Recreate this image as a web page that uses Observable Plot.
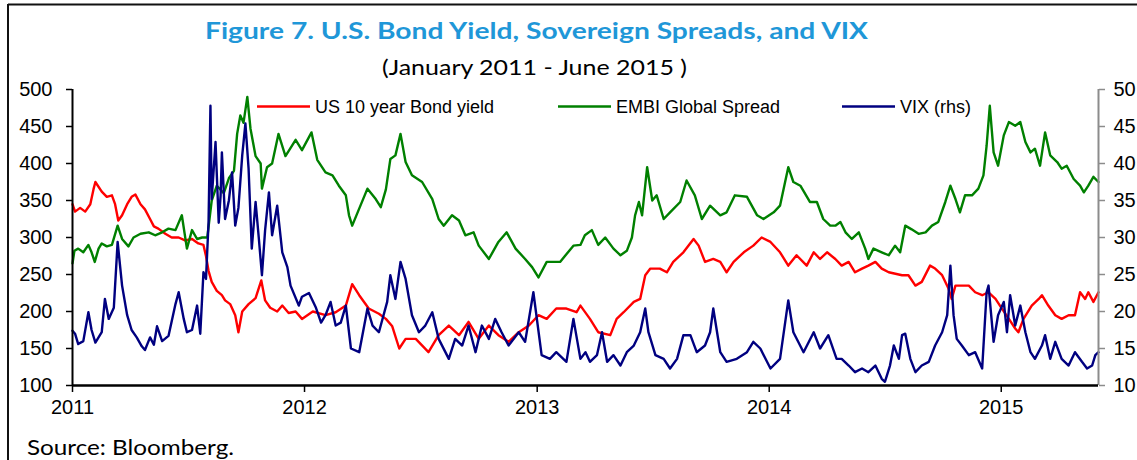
<!DOCTYPE html>
<html>
<head>
<meta charset="utf-8">
<script src="https://cdn.jsdelivr.net/npm/d3@7"></script>
<script src="https://cdn.jsdelivr.net/npm/@observablehq/plot@0.6"></script>
<style>
  html, body { margin: 0; padding: 0; background: #fff; }
  #wrap { position: relative; width: 1137px; height: 460px; overflow: hidden; background: #fff; }
  #chart { position: absolute; left: 0; top: 0; }
  #overlay { position: absolute; left: 0; top: 0; pointer-events: none; }
</style>
</head>
<body>
<div id="wrap">
  <div id="chart"></div>
  <svg id="overlay" width="1137" height="460"></svg>
</div>
<script>
// ---------- data (dates as "%Y-%j": year-dayOfYear) ----------
const seriesNames = ["US 10 year Bond yield", "EMBI Global Spread", "VIX (rhs)"];
const seriesColors = ["#ff0000", "#008000", "#000080"];

const usDates = [
"2011-001","2011-005","2011-013","2011-021","2011-029","2011-034","2011-037","2011-047","2011-055","2011-063",
"2011-068","2011-073","2011-079","2011-087","2011-094","2011-100","2011-108","2011-115","2011-123","2011-129",
"2011-136","2011-147","2011-157","2011-168","2011-178","2011-189","2011-199","2011-207","2011-211","2011-215",
"2011-220","2011-228","2011-236","2011-241","2011-249","2011-257","2011-262","2011-268","2011-278","2011-289",
"2011-298","2011-304","2011-312","2011-323","2011-331","2011-341","2011-352","2011-362",
"2012-014","2012-034","2012-050","2012-066","2012-076","2012-087","2012-102","2012-118","2012-129","2012-139",
"2012-150","2012-160","2012-176","2012-196","2012-212","2012-228","2012-244","2012-259","2012-275","2012-291",
"2012-306","2012-322","2012-338","2012-354",
"2013-003","2013-016","2013-031","2013-047","2013-063","2013-069","2013-084","2013-097","2013-116","2013-126",
"2013-137","2013-153","2013-163","2013-171","2013-179","2013-194","2013-205","2013-215","2013-231","2013-247",
"2013-255","2013-265","2013-278","2013-289","2013-299","2013-310","2013-326","2013-341","2013-354",
"2014-003","2014-018","2014-031","2014-044","2014-060","2014-071","2014-081","2014-092","2014-105","2014-115",
"2014-126","2014-136","2014-147","2014-157","2014-168","2014-178","2014-189","2014-210","2014-220","2014-231",
"2014-241","2014-254","2014-262","2014-273","2014-283","2014-288","2014-294","2014-304","2014-315","2014-325",
"2014-336","2014-346","2014-357",
"2015-002","2015-013","2015-023","2015-028","2015-036","2015-049","2015-060","2015-065","2015-075","2015-086",
"2015-096","2015-107","2015-117","2015-125","2015-133","2015-138","2015-146","2015-154"];
const usYield = [
345,335,340,335,345,365,375,362,355,357, 345,323,330,345,355,358,345,338,325,315,
312,305,300,300,296,298,292,290,275,255, 240,228,222,215,210,195,172,200,210,218,
242,215,205,200,208,198,200,190,
200,195,199,208,237,222,204,197,190,180, 150,163,163,145,168,181,168,186,163,181,
168,159,172,181,
195,190,204,204,199,208,190,172,168,190, 199,213,217,249,258,258,253,267,280,298,
289,267,271,267,253,267,280,289,300,
294,280,262,276,262,280,271,280,271,262, 267,253,258,262,267,258,253,249,249,235,
240,262,258,249,231,217,235,235,235,226, 222,226,217,
204,190,177,172,190,208,217,222,208,195, 190,195,195,226,217,226,213,226];

const embiDates = [
"2011-001","2011-004","2011-010","2011-018","2011-026","2011-031","2011-036","2011-042","2011-047","2011-055",
"2011-063","2011-072","2011-079","2011-089","2011-097","2011-108","2011-121","2011-131","2011-142","2011-152",
"2011-163","2011-173","2011-181","2011-189","2011-197","2011-205","2011-213","2011-220","2011-228","2011-239",
"2011-247","2011-255","2011-260","2011-265","2011-270","2011-276","2011-281","2011-289","2011-297","2011-299",
"2011-307","2011-315","2011-325","2011-336","2011-352","2011-362",
"2012-012","2012-021","2012-034","2012-045","2012-055","2012-066","2012-071","2012-076","2012-087","2012-100",
"2012-113","2012-121","2012-129","2012-136","2012-144","2012-152","2012-160","2012-170","2012-186","2012-202",
"2012-212","2012-220","2012-233","2012-244","2012-254","2012-267","2012-275","2012-291","2012-306","2012-319",
"2012-333","2012-348","2012-359",
"2013-003","2013-016","2013-037","2013-058","2013-069","2013-076","2013-087","2013-097","2013-108","2013-121",
"2013-132","2013-142","2013-150","2013-155","2013-161","2013-166","2013-174","2013-182","2013-189","2013-200",
"2013-210","2013-226","2013-236","2013-249","2013-260","2013-273","2013-289","2013-299","2013-312","2013-331",
"2013-347","2013-357",
"2014-008","2014-018","2014-026","2014-031","2014-039","2014-050","2014-065","2014-076","2014-086","2014-097",
"2014-105","2014-113","2014-121","2014-131","2014-142","2014-152","2014-157","2014-165","2014-178","2014-189",
"2014-199","2014-207","2014-215","2014-225","2014-236","2014-247","2014-257","2014-267","2014-278","2014-286",
"2014-294","2014-301","2014-309","2014-320","2014-330","2014-338","2014-343","2014-348","2014-354","2014-361",
"2015-005","2015-013","2015-023","2015-031","2015-039","2015-047","2015-054","2015-062","2015-070","2015-078",
"2015-089","2015-096","2015-104","2015-115","2015-125","2015-131","2015-138","2015-146","2015-154"];
const embiSpread = [
265,282,285,280,290,280,267,285,292,288, 290,316,298,288,300,305,307,303,307,312,
310,330,285,310,298,300,300,350,370,360, 380,390,440,465,455,490,447,410,400,366,
395,400,440,410,432,418,
442,405,388,384,370,357,330,316,339,366, 352,341,365,406,411,440,402,384,375,352,
325,316,330,323,303,307,289,271,294,307, 285,271,260,
246,267,267,289,290,303,310,290,300,285, 276,282,300,330,348,330,395,350,357,325,
334,348,377,357,325,343,330,334,357,355, 330,325,
334,343,375,395,375,370,348,348,325,316, 316,321,307,298,307,285,271,285,280,276,
289,280,316,311,305,307,316,321,348,370, 352,334,357,357,366,384,424,478,415,397,
438,456,451,456,429,415,420,397,442,411, 402,393,397,379,370,361,370,382,375];

const vixDates = [
"2011-001","2011-005","2011-010","2011-018","2011-026","2011-031","2011-037","2011-047","2011-052","2011-058",
"2011-066","2011-072","2011-079","2011-087","2011-094","2011-102","2011-110","2011-115","2011-123","2011-129",
"2011-134","2011-142","2011-152","2011-163","2011-168","2011-176","2011-181","2011-189","2011-197","2011-202",
"2011-207","2011-211","2011-215","2011-218","2011-220","2011-226","2011-231","2011-234","2011-236","2011-241",
"2011-247","2011-252","2011-257","2011-262","2011-268","2011-273","2011-278","2011-283","2011-289","2011-294",
"2011-299","2011-304","2011-310","2011-315","2011-323","2011-331","2011-339","2011-344","2011-357","2011-362",
"2012-008","2012-019","2012-027","2012-034","2012-042","2012-050","2012-058","2012-066","2012-074","2012-087",
"2012-100","2012-108","2012-118","2012-131","2012-136","2012-144","2012-152","2012-160","2012-170","2012-181",
"2012-191","2012-202","2012-212","2012-228","2012-238","2012-249","2012-259","2012-270","2012-280","2012-291",
"2012-301","2012-311","2012-322","2012-338","2012-348","2012-361",
"2013-008","2013-021","2013-031","2013-047","2013-058","2013-069","2013-077","2013-084","2013-095","2013-103",
"2013-111","2013-121","2013-132","2013-142","2013-153","2013-163","2013-171","2013-176","2013-187","2013-200",
"2013-210","2013-221","2013-231","2013-242","2013-252","2013-265","2013-273","2013-278","2013-289","2013-299",
"2013-315","2013-331","2013-341","2013-352",
"2014-003","2014-018","2014-031","2014-039","2014-055","2014-071","2014-081","2014-094","2014-107","2014-115",
"2014-126","2014-136","2014-147","2014-157","2014-168","2014-178","2014-183","2014-191","2014-197","2014-205",
"2014-210","2014-215","2014-223","2014-231","2014-241","2014-252","2014-262","2014-273","2014-281","2014-286",
"2014-291","2014-296","2014-304","2014-315","2014-325","2014-336","2014-343","2014-346","2014-354","2014-361",
"2015-005","2015-010","2015-015","2015-023","2015-031","2015-039","2015-047","2015-054","2015-065","2015-070",
"2015-078","2015-086","2015-096","2015-107","2015-117","2015-128","2015-136","2015-144","2015-149","2015-154"];
const vixLevel = [
17.4,17.0,15.6,16.0,19.9,17.5,15.8,17.2,21.7,19.0, 20.5,29.4,23.5,19.5,17.5,16.5,15.3,14.8,16.5,15.5,
18.0,16.0,16.7,21.0,22.6,19.0,17.2,17.5,20.8,17.0, 25.3,24.4,32.0,47.8,35.2,42.9,32.0,35.7,41.5,32.5,
35.0,38.8,31.6,34.0,41.1,45.4,39.3,28.5,34.8,30.0, 24.9,31.0,36.1,30.3,34.3,28.0,26.0,23.5,20.8,22.0,
22.5,20.5,18.5,19.5,21.3,18.1,18.5,20.8,15.0,14.5, 20.4,18.1,17.2,21.3,24.9,21.7,26.7,24.4,19.5,17.2,
18.1,19.9,16.3,13.6,16.3,15.4,18.1,14.5,18.1,16.3, 19.0,17.2,15.4,17.2,15.9,22.6,
14.1,13.6,14.5,13.2,19.0,13.6,14.5,13.2,14.1,17.2, 13.2,14.1,12.7,14.5,15.4,17.2,20.4,17.2,14.1,13.6,
12.3,13.6,16.8,16.8,14.5,15.4,17.2,20.4,14.5,13.2, 13.6,14.5,15.9,15.0,
12.3,13.6,21.5,17.2,14.5,17.2,15.0,16.8,13.6,13.6, 12.7,11.8,12.3,11.8,12.7,10.9,10.5,12.7,15.4,13.6,
16.8,17.0,13.6,11.8,12.7,13.2,15.4,17.2,19.5,26.2, 19.5,16.3,15.4,14.1,14.5,12.3,22.6,23.5,15.9,19.5,
21.3,17.2,22.2,18.1,20.8,17.2,14.5,13.6,15.4,16.8, 13.6,15.9,13.6,12.7,14.5,13.2,12.3,12.7,14.1,14.5];

const leftTicks = [100,150,200,250,300,350,400,450,500];
const yearTicks = ["2011-001","2012-001","2013-001","2014-001","2015-001"];
const xStart = "2011-001", xEnd = "2015-154";

const titleText = "Figure 7. U.S. Bond Yield, Sovereign Spreads, and VIX";
const subtitleText = "(January 2011 - June 2015 )";
const sourceText = "Source: Bloomberg.";

// ---------- build ----------
const parse = d3.utcParse("%Y-%j");
const us = usDates.map((d, i) => ({date: parse(d), value: usYield[i]}));
const embi = embiDates.map((d, i) => ({date: parse(d), value: embiSpread[i]}));
// VIX shares the left scale: right axis 10..50 <-> left 100..500
const vix = vixDates.map((d, i) => ({date: parse(d), value: vixLevel[i] * 10}));

const chart = Plot.plot({
  width: 1137,
  height: 420,
  marginTop: 89,
  marginBottom: 35,
  marginLeft: 72,
  marginRight: 39,
  style: {background: "transparent", fontFamily: "'Liberation Sans', Arial, sans-serif", fontSize: "20px", color: "#000", overflow: "visible"},
  x: {type: "utc", domain: [parse(xStart), parse(xEnd)]},
  y: {domain: [100, 500]},
  marks: [
    Plot.line(us, {x: "date", y: "value", stroke: seriesColors[0], strokeWidth: 2.4}),
    Plot.line(embi, {x: "date", y: "value", stroke: seriesColors[1], strokeWidth: 2.4}),
    Plot.line(vix, {x: "date", y: "value", stroke: seriesColors[2], strokeWidth: 2.4}),
    Plot.ruleX([parse(xStart)], {stroke: "#000", strokeWidth: 2}),
    Plot.ruleX([parse(xEnd)], {stroke: "#8c8c8c", strokeWidth: 2}),
    Plot.ruleY([100], {stroke: "#000", strokeWidth: 2.5}),
    Plot.axisY(leftTicks, {anchor: "left", tickSize: 6, tickPadding: 14, label: null, stroke: "#000", strokeWidth: 1.5}),
    Plot.axisY(leftTicks, {anchor: "right", tickSize: 6, tickPadding: 9, label: null, stroke: "#8c8c8c", strokeWidth: 1.5, tickFormat: d => String(d / 10)}),
    Plot.axisX(yearTicks.map(parse), {anchor: "bottom", tickSize: 7, tickPadding: 7, label: null, stroke: "#000", strokeWidth: 1.5, tickFormat: d3.utcFormat("%Y")})
  ]
});
document.getElementById("chart").appendChild(chart);

// ---------- overlay: frame, titles, legend, source ----------
const ov = d3.select("#overlay");
ov.append("line").attr("x1", 8).attr("x2", 1137).attr("y1", 4.5).attr("y2", 4.5).attr("stroke", "#111").attr("stroke-width", 2);
ov.append("line").attr("x1", 8).attr("x2", 8).attr("y1", 4).attr("y2", 460).attr("stroke", "#111").attr("stroke-width", 2);

ov.append("text").attr("x", 536.5).attr("y", 39).attr("text-anchor", "middle")
  .attr("font-family", "Lato, 'Open Sans', sans-serif").attr("font-weight", "bold").attr("font-size", 22.5)
  .attr("fill", "#1f97d8").attr("textLength", 663).attr("lengthAdjust", "spacingAndGlyphs").text(titleText);
ov.append("text").attr("x", 534.5).attr("y", 75).attr("text-anchor", "middle")
  .attr("font-family", "Lato, 'Open Sans', sans-serif").attr("font-size", 22)
  .attr("fill", "#000").attr("textLength", 305).attr("lengthAdjust", "spacingAndGlyphs").text(subtitleText);
ov.append("text").attr("x", 27).attr("y", 455)
  .attr("font-family", "Lato, 'Open Sans', sans-serif").attr("font-size", 21)
  .attr("fill", "#000").attr("textLength", 207).attr("lengthAdjust", "spacingAndGlyphs").text(sourceText);

const legendX = [257, 558, 842];
const lg = ov.append("g").attr("font-family", "'Liberation Sans', Arial, sans-serif").attr("font-size", 18);
seriesNames.forEach((name, i) => {
  lg.append("line").attr("x1", legendX[i]).attr("x2", legendX[i] + 53).attr("y1", 106.5).attr("y2", 106.5)
    .attr("stroke", seriesColors[i]).attr("stroke-width", 2.5);
  lg.append("text").attr("x", legendX[i] + 58).attr("y", 113).attr("fill", "#000").text(name);
});
</script>
</body>
</html>
